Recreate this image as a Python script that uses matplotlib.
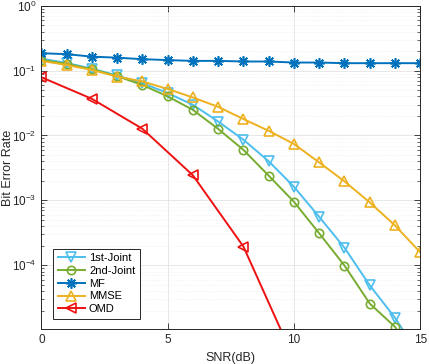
import matplotlib
matplotlib.use('Agg')
import matplotlib.pyplot as plt
import numpy as np
from matplotlib.ticker import LogLocator, NullFormatter, MultipleLocator

plt.rcParams['font.family'] = ['Liberation Sans', 'DejaVu Sans']
plt.rcParams['mathtext.default'] = 'regular'

# SNR (dB)
snr = [0, 1, 2, 3, 4, 5, 6, 7, 8, 9, 10, 11, 12, 13, 14, 15]
snr_omd = [0, 2, 4, 6, 8, 10]

# bit error rates
ber_joint1 = [0.153, 0.131, 0.107, 0.084, 0.064, 0.045, 0.0297, 0.0164, 0.0086,
              0.0040, 0.00162, 0.000556, 0.000186, 4.9e-5, 1.55e-5, 3.9e-6]
ber_joint2 = [0.146, 0.127, 0.105, 0.082, 0.060, 0.040, 0.0248, 0.0126, 0.0060,
              0.0024, 0.00095, 0.00031, 9.9e-5, 2.57e-5, 1.12e-5, 3.0e-6]
ber_mf = [0.185, 0.179, 0.164, 0.158, 0.150, 0.145, 0.141, 0.141, 0.138, 0.138,
          0.133, 0.133, 0.130, 0.130, 0.130, 0.130]
ber_mmse = [0.141, 0.122, 0.102, 0.081, 0.068, 0.052, 0.0385, 0.0276, 0.0179,
            0.0118, 0.00738, 0.00384, 0.00196, 0.00093, 0.00041, 0.000158]
ber_omd = [0.079, 0.0367, 0.0127, 0.00243, 0.000194, 3.6e-6]

labels = ['1st-Joint', '2nd-Joint', 'MF', 'MMSE', 'OMD']
colors = ['#4DBEEE', '#77AC30', '#0072BD', '#EDB120', '#EE1111']

fig = plt.figure(figsize=(4.29, 3.64), dpi=100)
ax = fig.add_axes([0.0963, 0.0953, 0.8834, 0.8891])

lw = 1.4
ms = 6.5
ax.semilogy(snr, ber_joint1, '-', marker='v', color=colors[0], lw=lw, ms=ms,
            mfc='none', mew=1.2, label=labels[0])
ax.semilogy(snr, ber_joint2, '-', marker='o', color=colors[1], lw=lw, ms=ms - 0.5,
            mfc='none', mew=1.2, label=labels[1])
ax.semilogy(snr, ber_mf, '-', marker=(8, 2, 0), color=colors[2], lw=lw, ms=ms + 1,
            mew=1.2, label=labels[2])
ax.semilogy(snr, ber_mmse, '-', marker='^', color=colors[3], lw=lw, ms=ms,
            mfc='none', mew=1.2, label=labels[3])
ax.semilogy(snr_omd, ber_omd, '-', marker='<', color=colors[4], lw=lw, ms=ms,
            mfc='none', mew=1.2, label=labels[4])

ax.set_xlim(0, 15)
ax.set_ylim(1.03e-5, 1)
ax.xaxis.set_major_locator(MultipleLocator(5))
ax.yaxis.set_major_locator(LogLocator(base=10, numticks=10))
ax.yaxis.set_minor_locator(LogLocator(base=10, subs=np.arange(2, 10), numticks=10))
ax.yaxis.set_minor_formatter(NullFormatter())

ax.tick_params(which='both', direction='in', top=True, right=True,
               labelsize=8.5, colors='#262626')
ax.tick_params(which='major', length=4, width=0.6)
ax.tick_params(which='minor', length=2, width=0.5)
for s in ax.spines.values():
    s.set_color('#262626')
    s.set_linewidth(0.7)

ax.grid(True, which='major', color='#e3e3e3', lw=0.6, ls='-')
ax.grid(True, which='minor', axis='y', color='#ececec', lw=0.5, ls=':')
ax.set_axisbelow(True)

ax.set_xlabel('SNR(dB)', fontsize=9, color='#262626')
ax.set_ylabel('Bit Error Rate', fontsize=9, color='#262626')
ax.xaxis.set_label_coords(0.5, -0.07)
ax.xaxis.label.set_va('top')
ax.yaxis.set_label_coords(-0.088, 0.5)
ax.yaxis.label.set_va('center')

leg = ax.legend(loc='lower left', bbox_to_anchor=(0.032, 0.033), borderaxespad=0,
                fontsize=8, handlelength=2.4, labelspacing=0.25, fancybox=False,
                framealpha=1, edgecolor='#262626', borderpad=0.4, handletextpad=0.4)
leg.get_frame().set_linewidth(0.7)

fig.savefig('out.png', dpi=100)
